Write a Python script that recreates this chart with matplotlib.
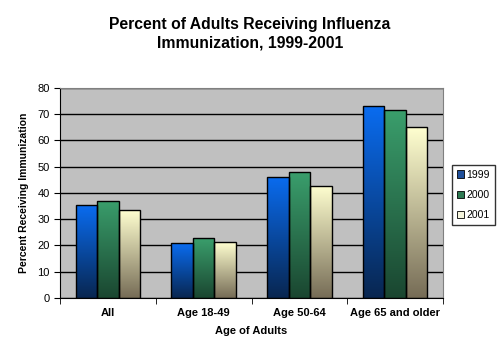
import matplotlib.pyplot as plt
import numpy as np
from matplotlib.colors import LinearSegmentedColormap
from matplotlib.patches import Patch

plt.rcParams['font.family'] = ['Liberation Sans', 'DejaVu Sans']

categories = ['All', 'Age 18-49', 'Age 50-64', 'Age 65 and older']
years = ['1999', '2000', '2001']
v1999 = [35.4, 20.8, 46.2, 73.0]
v2000 = [37.0, 22.7, 48.0, 71.5]
v2001 = [33.4, 21.2, 42.7, 65.0]

# top colour, bottom colour for each series
grads = [('#0a6cf0', '#082650'), ('#3a9e6c', '#1a4630'), ('#ffffd0', '#766c56')]
legend_cols = ['#1f4f9a', '#2e7a52', '#f4f4dc']

fig = plt.figure(figsize=(5, 3.5), dpi=100)
ax = fig.add_axes([0.12, 0.149, 0.766, 0.6])
ax.set_facecolor('#c0c0c0')

x = np.arange(len(categories))
w = 0.225
grad = np.linspace(0, 1, 256).reshape(-1, 1)
for i, vals in enumerate([v1999, v2000, v2001]):
    cmap = LinearSegmentedColormap.from_list('g%d' % i, [grads[i][1], grads[i][0]])
    bars = ax.bar(x + (i - 1) * w, vals, w, facecolor='none', edgecolor='black', linewidth=1, zorder=3)
    for b in bars:
        x0, y0 = b.get_x(), b.get_y()
        im = ax.imshow(grad, cmap=cmap, aspect='auto', origin='lower',
                       extent=(x0, x0 + b.get_width(), y0, y0 + b.get_height()), zorder=2)
        im.set_clip_path(b)

ax.set_xlim(-0.5, 3.5)
ax.set_ylim(0, 80)
ax.set_yticks(range(0, 81, 10))
ax.yaxis.grid(True, color='black', linewidth=1)
ax.set_axisbelow(True)
ax.set_xticks(x)
ax.set_xticklabels(categories, fontsize=8, fontweight='bold')
ax.tick_params(axis='x', length=0, pad=7)
ax.set_xticks(np.arange(-0.5, 4, 1), minor=True)
ax.tick_params(axis='x', which='minor', length=4, direction='out')
ax.tick_params(axis='y', labelsize=8, length=4, direction='out')
for s in ['top', 'right']:
    ax.spines[s].set_color('#808080')
ax.set_xlabel('Age of Adults', fontsize=8, fontweight='bold', labelpad=6)
ax.set_ylabel('Percent Receiving Immunization', fontsize=7.5, fontweight='bold', labelpad=6)

fig.suptitle('Percent of Adults Receiving Influenza\nImmunization, 1999-2001', fontsize=11.3,
             fontweight='bold', y=0.95, linespacing=1.25)

handles = [Patch(facecolor=c, edgecolor='black', linewidth=0.6) for c in legend_cols]
fig.legend(handles, years, loc='center left', bbox_to_anchor=(0.904, 0.443), fontsize=7.5,
           frameon=True, fancybox=False, edgecolor='black', handlelength=0.7, handleheight=0.7,
           handletextpad=0.25, borderpad=0.45, borderaxespad=0, labelspacing=1.0)

fig.savefig('out.png', dpi=100)
